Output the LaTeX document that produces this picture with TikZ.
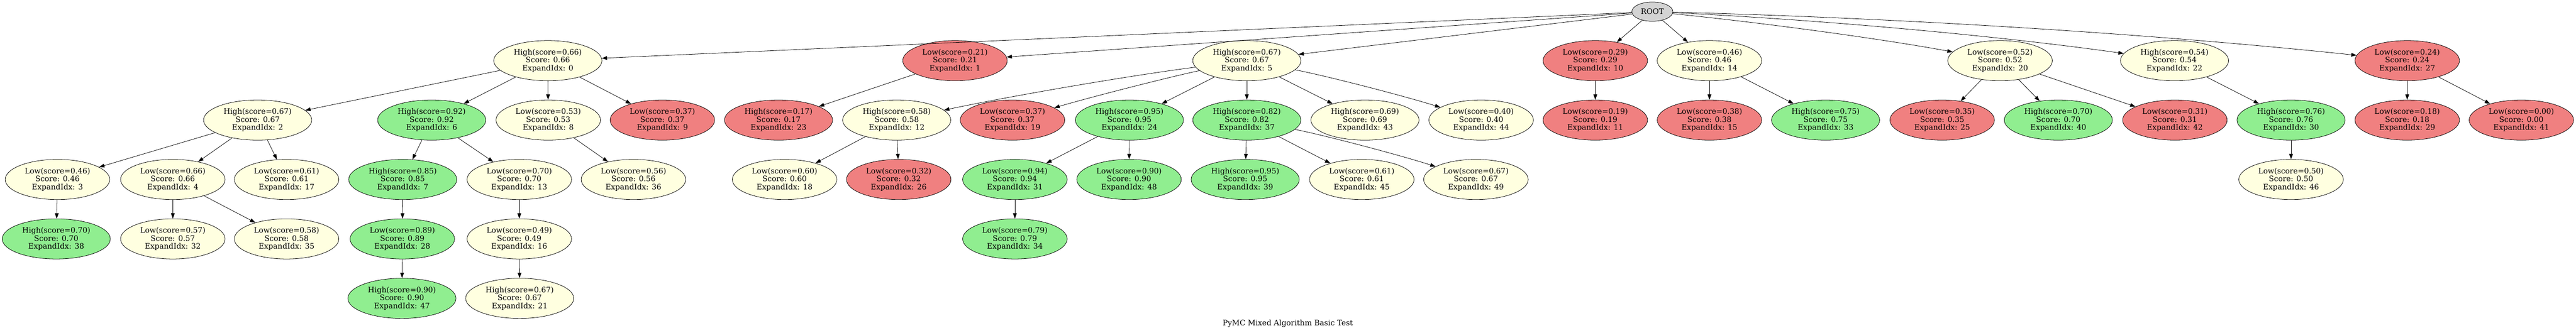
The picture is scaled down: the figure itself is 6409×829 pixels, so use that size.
\documentclass[tikz,border=0pt]{standalone}
\usepackage{fontspec}
\setmainfont{DejaVu Serif}
\usetikzlibrary{shapes.geometric,arrows.meta}
\definecolor{nyellow}{HTML}{FFFFE0}
\definecolor{ngreen}{HTML}{90EE90}
\definecolor{nred}{HTML}{F08080}
\definecolor{ngray}{HTML}{D3D3D3}
\newcommand\nlbl[3]{#1(score=#2)\\Score: #2\\ExpandIdx: #3}
\begin{document}
\begin{tikzpicture}[x=0.75pt,y=0.75pt,
  base/.style={ellipse,draw=black,line width=0.75pt,inner sep=0pt,minimum height=75pt,align=center,font=\fontsize{14pt}{15pt}\selectfont},
  lo/.style={base,minimum width=195pt},
  hi/.style={base,minimum width=201.75pt},
  fy/.style={fill=nyellow},
  fg/.style={fill=ngreen},
  fr/.style={fill=nred},
  rootnode/.style={ellipse,draw=black,line width=0.75pt,inner sep=0pt,fill=ngray,minimum width=76.5pt,minimum height=36pt,font=\fontsize{14pt}{15pt}\selectfont},
  edge/.style={draw=black,line width=0.75pt,-{Triangle[length=10pt,width=7pt]}},
  titletext/.style={font=\fontsize{14pt}{15pt}\selectfont,inner sep=0pt}
]
\useasboundingbox (0,0) rectangle (6409,-829);
% root
\node[rootnode] (root) at (4111,-29) {ROOT};
% row 2
\node[hi,fy] (n0)  at (1363,-151) {\nlbl{High}{0.66}{0}};
\node[lo,fr] (n1)  at (2376,-151) {\nlbl{Low}{0.21}{1}};
\node[hi,fy] (n5)  at (3102,-151) {\nlbl{High}{0.67}{5}};
\node[lo,fr] (n10) at (3969,-151) {\nlbl{Low}{0.29}{10}};
\node[lo,fy] (n14) at (4253,-151) {\nlbl{Low}{0.46}{14}};
\node[lo,fy] (n20) at (4976,-151) {\nlbl{Low}{0.52}{20}};
\node[hi,fy] (n22) at (5410,-151) {\nlbl{High}{0.54}{22}};
\node[lo,fr] (n27) at (5989,-151) {\nlbl{Low}{0.24}{27}};
% row 3
\node[hi,fy] (n2)  at (641,-299)  {\nlbl{High}{0.67}{2}};
\node[hi,fg] (n6)  at (1074,-299) {\nlbl{High}{0.92}{6}};
\node[lo,fy] (n8)  at (1364,-299) {\nlbl{Low}{0.53}{8}};
\node[lo,fr] (n9)  at (1648,-299) {\nlbl{Low}{0.37}{9}};
\node[hi,fr] (n23) at (1937,-299) {\nlbl{High}{0.17}{23}};
\node[hi,fy] (n12) at (2231,-299) {\nlbl{High}{0.58}{12}};
\node[lo,fr] (n19) at (2519,-299) {\nlbl{Low}{0.37}{19}};
\node[hi,fg] (n24) at (2810,-299) {\nlbl{High}{0.95}{24}};
\node[hi,fg] (n37) at (3102,-299) {\nlbl{High}{0.82}{37}};
\node[hi,fy] (n43) at (3396,-299) {\nlbl{High}{0.69}{43}};
\node[lo,fy] (n44) at (3685,-299) {\nlbl{Low}{0.40}{44}};
\node[lo,fr] (n11) at (3969,-299) {\nlbl{Low}{0.19}{11}};
\node[lo,fr] (n15) at (4253,-299) {\nlbl{Low}{0.38}{15}};
\node[hi,fg] (n33) at (4542,-299) {\nlbl{High}{0.75}{33}};
\node[lo,fr] (n25) at (4832,-299) {\nlbl{Low}{0.35}{25}};
\node[hi,fg] (n40) at (5121,-299) {\nlbl{High}{0.70}{40}};
\node[lo,fr] (n42) at (5411,-299) {\nlbl{Low}{0.31}{42}};
\node[hi,fg] (n30) at (5700,-299) {\nlbl{High}{0.76}{30}};
\node[lo,fr] (n29) at (5989,-299) {\nlbl{Low}{0.18}{29}};
\node[lo,fr] (n41) at (6273,-299) {\nlbl{Low}{0.00}{41}};
% row 4
\node[lo,fy] (n3)  at (143,-447)  {\nlbl{Low}{0.46}{3}};
\node[lo,fy] (n4)  at (430,-447)  {\nlbl{Low}{0.66}{4}};
\node[lo,fy] (n17) at (713,-447)  {\nlbl{Low}{0.61}{17}};
\node[hi,fg] (n7)  at (1002,-447) {\nlbl{High}{0.85}{7}};
\node[lo,fy] (n13) at (1292,-447) {\nlbl{Low}{0.70}{13}};
\node[lo,fy] (n36) at (1576,-447) {\nlbl{Low}{0.56}{36}};
\node[lo,fy] (n18) at (1952,-447) {\nlbl{Low}{0.60}{18}};
\node[lo,fr] (n26) at (2236,-447) {\nlbl{Low}{0.32}{26}};
\node[lo,fg] (n31) at (2525,-447) {\nlbl{Low}{0.94}{31}};
\node[lo,fg] (n48) at (2809,-447) {\nlbl{Low}{0.90}{48}};
\node[hi,fg] (n39) at (3098,-447) {\nlbl{High}{0.95}{39}};
\node[lo,fy] (n45) at (3388,-447) {\nlbl{Low}{0.61}{45}};
\node[lo,fy] (n49) at (3672,-447) {\nlbl{Low}{0.67}{49}};
\node[lo,fy] (n46) at (5700,-447) {\nlbl{Low}{0.50}{46}};
% row 5
\node[hi,fg] (n38) at (140,-595)  {\nlbl{High}{0.70}{38}};
\node[lo,fy] (n32) at (430,-595)  {\nlbl{Low}{0.57}{32}};
\node[lo,fy] (n35) at (713,-595)  {\nlbl{Low}{0.58}{35}};
\node[lo,fg] (n28) at (1001,-595) {\nlbl{Low}{0.89}{28}};
\node[lo,fy] (n16) at (1292,-595) {\nlbl{Low}{0.49}{16}};
\node[lo,fg] (n34) at (2525,-595) {\nlbl{Low}{0.79}{34}};
% row 6
\node[hi,fg] (n47) at (1000,-743) {\nlbl{High}{0.90}{47}};
\node[hi,fy] (n21) at (1293,-743) {\nlbl{High}{0.67}{21}};
% title
\node[titletext] (title) at (3204,-806) {PyMC Mixed Algorithm Basic Test};
% edges from root
\draw[edge] (root) -- (n0);
\draw[edge] (root) -- (n1);
\draw[edge] (root) -- (n5);
\draw[edge] (root) -- (n10);
\draw[edge] (root) -- (n14);
\draw[edge] (root) .. controls (4399,-58) and (4688,-98) .. (n20);
\draw[edge] (root) .. controls (4544,-50) and (4977,-90) .. (n22);
\draw[edge] (root) .. controls (4737,-45) and (5363,-85) .. (n27);
% subtree 0
\draw[edge] (n0) -- (n2);
\draw[edge] (n0) -- (n6);
\draw[edge] (n0) -- (n8);
\draw[edge] (n0) -- (n9);
\draw[edge] (n2) -- (n3);
\draw[edge] (n2) -- (n4);
\draw[edge] (n2) -- (n17);
\draw[edge] (n3) -- (n38);
\draw[edge] (n4) -- (n32);
\draw[edge] (n4) -- (n35);
\draw[edge] (n6) -- (n7);
\draw[edge] (n6) -- (n13);
\draw[edge] (n7) -- (n28);
\draw[edge] (n28) -- (n47);
\draw[edge] (n8) -- (n36);
\draw[edge] (n13) -- (n16);
\draw[edge] (n16) -- (n21);
% subtree 1
\draw[edge] (n1) -- (n23);
% subtree 5
\draw[edge] (n5) .. controls (2812,-188) and (2521,-238) .. (n12);
\draw[edge] (n5) .. controls (2908,-192) and (2713,-242) .. (n19);
\draw[edge] (n5) -- (n24);
\draw[edge] (n5) -- (n37);
\draw[edge] (n5) -- (n43);
\draw[edge] (n5) .. controls (3296,-188) and (3490,-238) .. (n44);
\draw[edge] (n12) -- (n18);
\draw[edge] (n12) -- (n26);
\draw[edge] (n24) -- (n31);
\draw[edge] (n24) -- (n48);
\draw[edge] (n31) -- (n34);
\draw[edge] (n37) -- (n39);
\draw[edge] (n37) -- (n45);
\draw[edge] (n37) .. controls (3292,-336) and (3482,-386) .. (n49);
% others
\draw[edge] (n10) -- (n11);
\draw[edge] (n14) -- (n15);
\draw[edge] (n14) -- (n33);
\draw[edge] (n20) -- (n25);
\draw[edge] (n20) -- (n40);
\draw[edge] (n20) -- (n42);
\draw[edge] (n22) -- (n30);
\draw[edge] (n30) -- (n46);
\draw[edge] (n27) -- (n29);
\draw[edge] (n27) -- (n41);
\end{tikzpicture}
\end{document}
